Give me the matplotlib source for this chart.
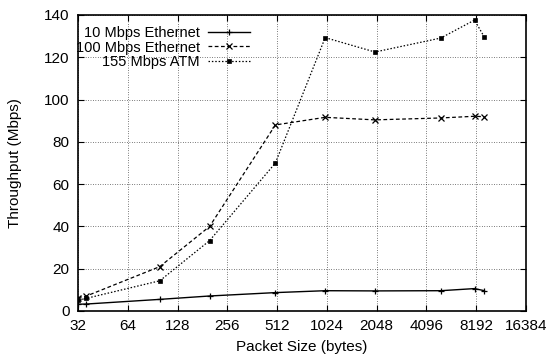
import numpy as np
import matplotlib
matplotlib.use("Agg")
import matplotlib.pyplot as plt
from matplotlib.ticker import FixedLocator, NullLocator

plt.rcParams['font.family'] = ['Liberation Sans', 'DejaVu Sans']

# 数据
packet_size = [32, 36, 100, 200, 500, 1000, 2000, 5000, 8000, 9180]
eth10 = [3.2, 3.3, 5.5, 7.1, 8.7, 9.6, 9.5, 9.6, 10.6, 9.6]
eth100 = [6.3, 7.1, 21, 40, 88, 91.6, 90.4, 91.3, 92.1, 91.9]
atm155 = [5.2, 6.0, 14.3, 33.3, 70, 129.3, 122.5, 129.1, 137.6, 129.5]

x_ticks = [32, 64, 128, 256, 512, 1024, 2048, 4096, 8192, 16384]
y_ticks = [0, 20, 40, 60, 80, 100, 120, 140]

fig = plt.figure(figsize=(5.5, 3.54), dpi=100)
ax = fig.add_axes([78 / 550, 1 - 311 / 354, 448 / 550, 296 / 354])

ax.plot(packet_size, eth10, color='black', lw=1.0, ls='-', marker='+',
        ms=5, mew=0.9, label='10 Mbps Ethernet')
ax.plot(packet_size, eth100, color='black', lw=0.9, ls=(0, (3, 2)), marker='x',
        ms=4, mew=0.9, label='100 Mbps Ethernet')
ax.plot(packet_size, atm155, color='black', lw=0.9, ls=(0, (1.2, 1.5)), marker='s',
        ms=3.5, mew=0.5, label='155 Mbps ATM')

ax.set_xscale('log', base=2)
ax.set_xlim(32, 16384)
ax.set_ylim(0, 140)
ax.xaxis.set_major_locator(FixedLocator(x_ticks))
ax.xaxis.set_minor_locator(NullLocator())
ax.set_xticklabels([str(v) for v in x_ticks])
ax.set_yticks(y_ticks)

ax.tick_params(direction='in', top=True, right=True, length=4, width=0.8,
               labelsize=11, pad=6)
ax.grid(True, color='black', ls=(0, (1, 2.5)), lw=0.5)
for s in ax.spines.values():
    s.set_linewidth(1.2)

ax.set_xlabel('Packet Size (bytes)', fontsize=11, labelpad=5)
ax.set_ylabel('Throughput (Mbps)', fontsize=11, labelpad=16)

# 图例: 文字在左、线条在右 (gnuplot 风格)
leg = ax.legend(loc='upper right', bbox_to_anchor=(0.384, 0.962), frameon=False,
                markerfirst=False, fontsize=10.5, handlelength=2.9,
                handletextpad=0.55, labelspacing=0.02, borderpad=0.0,
                borderaxespad=0.0)

fig.savefig('out.png', dpi=100)
